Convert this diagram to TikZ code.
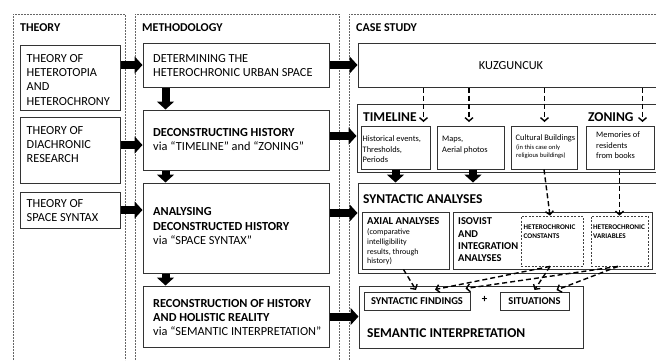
\documentclass[tikz,border=0pt]{standalone}
\usepackage{fontspec}
\setmainfont{Carlito}
\usetikzlibrary{arrows.meta,calc}
\begin{document}
\begin{tikzpicture}[x=1pt,y=-1pt,
  col/.style={draw=black!60, line width=0.6pt, dash pattern=on 1.6pt off 1.4pt},
  box/.style={draw=black!80, line width=1pt, inner sep=0pt},
  dbox/.style={draw=black!75, line width=0.8pt, dash pattern=on 2pt off 1.5pt, inner sep=0pt},
  txt/.style={anchor=north west, inner sep=0pt, align=left, text=black},
  btxt/.style={anchor=base west, inner sep=0pt, text=black},
  body/.style={font=\fontsize{12.3}{14.4}\selectfont},
  head/.style={font=\fontsize{12}{14.4}\selectfont\bfseries},
  big/.style={font=\fontsize{13.5}{15}\selectfont\bfseries},
  small/.style={font=\fontsize{8.4}{10.2}\selectfont},
  tiny/.style={font=\fontsize{6.5}{8.5}\selectfont},
  fat/.style={line width=8pt, -{Triangle[length=8pt,width=17pt]}},
  dar/.style={line width=1.4pt, dash pattern=on 5pt off 3pt, -{Straight Barb[length=3.5pt,width=8pt]}},
]
\useasboundingbox (0,0) rectangle (656,360);
\clip (0,0) rectangle (656,360);

% column frames
\draw[col] (13,360) -- (13,14) -- (125,14) -- (125,360);
\draw[col] (135,360) -- (135,14) -- (339,14) -- (339,360);
\draw[col] (349,360) -- (349,14) -- (680,14);

\node[txt,head] (hT) at (20,20.8) {\strut THEORY};
\node[txt,head] (hM) at (142,20.8) {\strut METHODOLOGY};
\node[txt,head] (hC) at (356,20.8) {\strut CASE STUDY};

% theory boxes
\node[box, minimum width=100pt, minimum height=65pt] (th1) at (70,77.5) {};
\node[box, minimum width=100pt, minimum height=66pt] (th2) at (70,150) {};
\node[box, minimum width=100pt, minimum height=36pt] (th3) at (70,210) {};
\node[txt,body] (th1t) at (26.5,51.9) {\strut THEORY OF\\HETEROTOPIA\\AND\\HETEROCHRONY};
\node[txt,body] (th2t) at (26.5,123.9) {\strut THEORY OF\\DIACHRONIC\\RESEARCH};
\node[txt,body] (th3t) at (26.5,196.9) {\strut THEORY OF\\SPACE SYNTAX};

% methodology boxes
\node[box, minimum width=186pt, minimum height=44pt] (m1) at (236,65) {};
\node[box, minimum width=186pt, minimum height=60pt] (m2) at (236,140) {};
\node[box, minimum width=186pt, minimum height=90pt] (m3) at (236,228) {};
\node[box, minimum width=186pt, minimum height=61pt] (m4) at (236,316.5) {};
\node[txt,body] (m1t) at (153,51.9) {\strut DETERMINING THE\\HETEROCHRONIC URBAN SPACE};
\node[txt,font=\fontsize{12.3}{13.4}\selectfont] (m2t) at (153,127.3) {\strut\textbf{DECONSTRUCTING HISTORY}\\via “TIMELINE” and “ZONING”};
\node[txt,body] (m3t) at (153,205.6) {\strut\textbf{ANALYSING}\\\textbf{DECONSTRUCTED HISTORY}\\via “SPACE SYNTAX”};
\node[txt,body] (m4t) at (153,296.9) {\strut\textbf{RECONSTRUCTION OF HISTORY}\\\textbf{AND HOLISTIC REALITY}\\via “SEMANTIC INTERPRETATION”};

% case study boxes
\node[box, minimum width=322pt, minimum height=44pt] (kz) at (519,65) {};
\node[btxt,body,anchor=base] (kzt) at (511,69) {KUZGUNCUK};

\node[box, minimum width=323pt, minimum height=68pt] (tl) at (518.5,138) {};
\node[btxt,big] (tlt) at (363,121.3) {TIMELINE};
\node[btxt,big] (znt) at (588,121.3) {ZONING};
\node[box, minimum width=69pt, minimum height=43pt] (ts1) at (395.5,147.5) {};
\node[box, minimum width=67pt, minimum height=43pt] (ts2) at (470.5,147.5) {};
\node[box, minimum width=66pt, minimum height=43pt] (ts3) at (544,147.5) {};
\node[box, minimum width=68pt, minimum height=43pt] (ts4) at (620,147.5) {};
\node[txt,small] (ts1t) at (362.5,134.5) {\strut Historical events,\\Thresholds,\\Periods};
\node[txt,small] (ts2t) at (442,134.5) {\strut Maps,\\Aerial photos};
\node[txt,small] (ts3t) at (515.5,133.5) {\strut Cultural Buildings};
\node[txt,tiny] (ts3u) at (516,143.1) {\strut (in this case only\\religious buildings)};
\node[txt,small] (ts4t) at (596,130.5) {\strut Memories of\\residents\\from books};

\node[box, minimum width=322pt, minimum height=90pt] (syn) at (519,228) {};
\node[btxt,big] (synt) at (363,203.3) {SYNTACTIC ANALYSES};
\node[box, minimum width=87pt, minimum height=57pt] (ax) at (405.5,240.5) {};
\node[box, minimum width=199pt, minimum height=57pt] (iso) at (552.5,240.5) {};
\node[dbox, minimum width=62pt, minimum height=50pt] (hc) at (552,241) {};
\node[dbox, minimum width=57pt, minimum height=50pt] (hv) at (619.5,241) {};
\node[btxt,font=\fontsize{10.6}{12}\selectfont\bfseries] (axt) at (367,224.4) {AXIAL ANALYSES};
\node[txt,font=\fontsize{8}{9.7}\selectfont] (axu) at (367,227.8) {\strut(comparative\\intelligibility\\results, through\\history)};
\node[txt,font=\fontsize{10.5}{12.3}\selectfont\bfseries] (isot) at (458,216) {\strut ISOVIST\\AND\\INTEGRATION\\ANALYSES};
\node[txt,font=\fontsize{7.2}{9}\selectfont\bfseries] (hct) at (523.5,222.9) {\strut HETEROCHRONIC\\CONSTANTS};
\node[txt,font=\fontsize{7.2}{9}\selectfont\bfseries] (hvt) at (593,222.9) {\strut HETEROCHRONIC\\VARIABLES};

\node[box, minimum width=224pt, minimum height=62pt] (sem) at (471,317) {};
\node[box, minimum width=106pt, minimum height=18pt, font=\fontsize{10.5}{12}\selectfont\bfseries] (sf) at (417,301) {SYNTACTIC FINDINGS};
\node[box, minimum width=69pt, minimum height=18pt, font=\fontsize{10.5}{12}\selectfont\bfseries] (sit) at (534.5,301) {SITUATIONS};
\node[inner sep=0pt, font=\fontsize{11}{12}\selectfont\bfseries] (plus) at (484.5,299) {+};
\node[btxt,big] (semt) at (367,337.3) {SEMANTIC INTERPRETATION};

% fat arrows theory -> methodology
\draw[fat] (th1.east |- m1.west) -- (m1.west);
\coordinate (a2) at ($(th2.east)+(0,-5)$);
\draw[fat] (a2) -- (a2 -| m2.west);
\draw[fat] (th3.east) -- (th3.east -| m3.west);

% methodology down arrows
\draw[fat] ([xshift=23pt]m1.south west) -- ([xshift=23pt]m2.north west);
\draw[fat] ([xshift=23pt]m2.south west) -- ([xshift=23pt]m3.north west);
\draw[fat] ([xshift=23pt]m3.south west) -- ([xshift=23pt]m4.north west);

% methodology -> case study
\draw[fat] (m1.east) -- (kz.west);
\coordinate (b2) at ($(m2.east)+(0,-4)$);
\draw[fat] (b2) -- (b2 -| tl.west);
\coordinate (b3) at ($(m3.east)+(0,-15)$);
\draw[fat] (b3) -- (b3 -| syn.west);
\draw[fat] (m4.east) -- (m4.east -| sem.west);

% timeline -> syntactic
\draw[fat] (ts1.south) -- (ts1.south |- syn.north);
\coordinate (c2) at ($(ts2.south)+(2.5,0)$);
\draw[fat] (c2) -- (c2 |- syn.north);

% dashed arrows from KUZGUNCUK
\coordinate (d1) at ($(ts1.north east)+(-7,-3.5)$);
\coordinate (d2) at ($(ts2.north)+(-1.5,-3.5)$);
\coordinate (d3) at ($(ts3.north)+(0.5,-3.5)$);
\coordinate (d4) at ($(ts4.north east)+(-12,-3.5)$);
\draw[dar] (d1 |- kz.south) -- (d1);
\draw[dar] (d2 |- kz.south) -- (d2);
\draw[dar] (d3 |- kz.south) -- (d3);
\draw[dar] (d4 |- kz.south) -- (d4);

% dashed arrows to heterochronic boxes
\draw[dar] (ts3.south) -- ([xshift=-2pt]hc.north);
\draw[dar] ([xshift=-0.5pt]ts4.south) -- (hv.north);

% dashed arrows to semantic
\draw[dar] ([xshift=-2pt]ax.south) -- ([xshift=-1pt,yshift=1.5pt]sf.north);
\draw[dar] ([xshift=-2pt]hc.south) -- ($(sf.north)+(18,-2)$);
\draw[dar] ([xshift=-1.5pt]hv.south) -- ($(sf.north east)+(-5,-3)$);
\draw[dar] ([xshift=-2pt]hc.south) -- ($(sit.north)+(0,-1.5)$);
\draw[dar] ([xshift=-1.5pt]hv.south) -- ($(sit.north)+(22,-1.5)$);
\end{tikzpicture}
\end{document}
